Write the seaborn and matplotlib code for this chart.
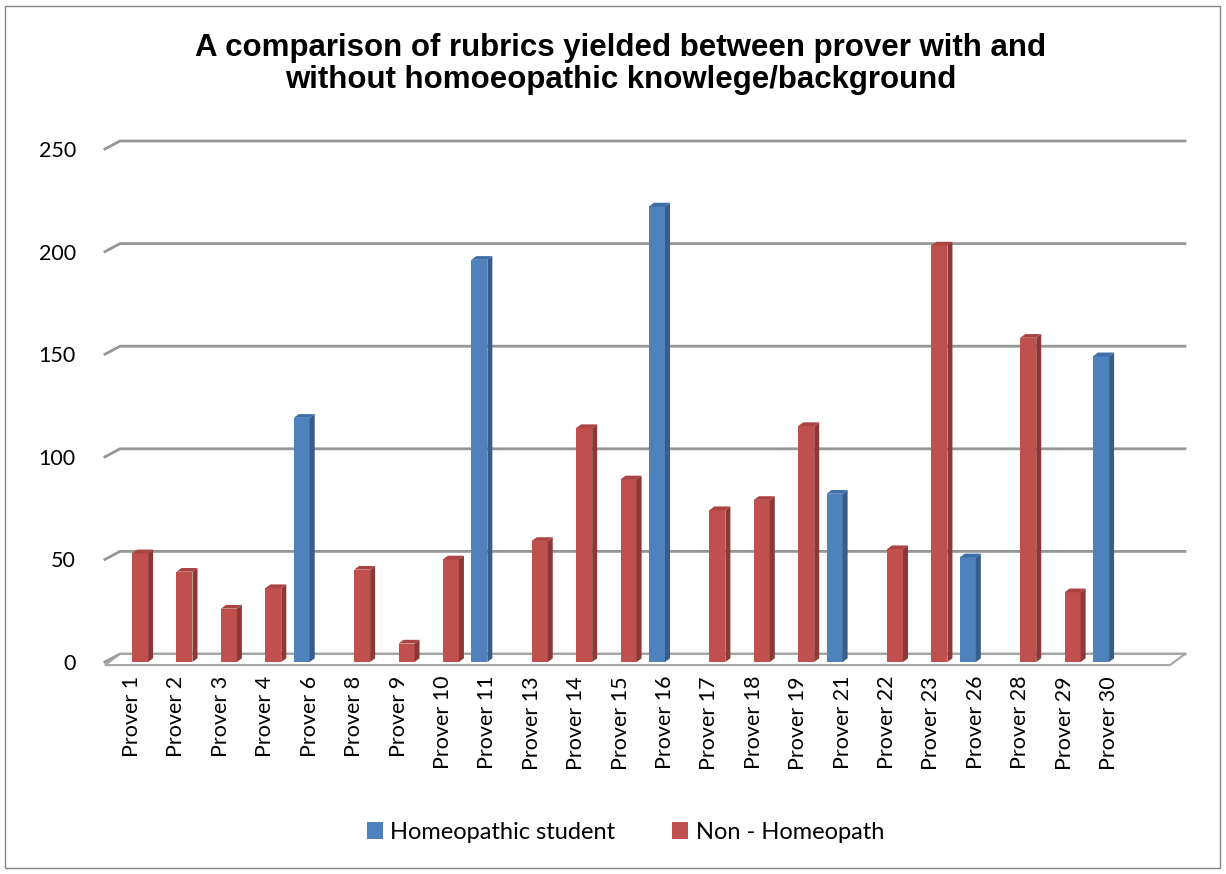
import pandas as pd
import seaborn as sns
import matplotlib.pyplot as plt
from matplotlib.patches import Polygon, Rectangle

# data
provers = ["Prover 1", "Prover 2", "Prover 3", "Prover 4", "Prover 6", "Prover 8",
           "Prover 9", "Prover 10", "Prover 11", "Prover 13", "Prover 14", "Prover 15",
           "Prover 16", "Prover 17", "Prover 18", "Prover 19", "Prover 21", "Prover 22",
           "Prover 23", "Prover 26", "Prover 28", "Prover 29", "Prover 30"]
groups = ["Non - Homeopath", "Non - Homeopath", "Non - Homeopath", "Non - Homeopath",
          "Homeopathic student", "Non - Homeopath", "Non - Homeopath", "Non - Homeopath",
          "Homeopathic student", "Non - Homeopath", "Non - Homeopath", "Non - Homeopath",
          "Homeopathic student", "Non - Homeopath", "Non - Homeopath", "Non - Homeopath",
          "Homeopathic student", "Non - Homeopath", "Non - Homeopath", "Homeopathic student",
          "Non - Homeopath", "Non - Homeopath", "Homeopathic student"]
rubrics = [53, 44, 26, 36, 119, 45, 9, 50, 196, 59, 114, 89, 222, 74, 79, 115, 82, 55,
           203, 51, 158, 34, 149]
hue_order = ["Homeopathic student", "Non - Homeopath"]
yticks = [0, 50, 100, 150, 200, 250]

front = {"Homeopathic student": "#4F81BD", "Non - Homeopath": "#C0504D"}
side = {"Homeopathic student": "#385D8A", "Non - Homeopath": "#8C3836"}
top = {"Homeopathic student": "#3E6DA8", "Non - Homeopath": "#A94442"}

df = pd.DataFrame({"prover": provers, "group": groups, "rubrics": rubrics})

fig = plt.figure(figsize=(12.26, 8.74), dpi=100)
ax = fig.add_axes([105 / 1226, (874 - 662) / 874, 1080 / 1226, 513 / 874])

# outer chart border
fig.patches.append(Rectangle((5 / 1226, 6 / 874), 1215 / 1226, 862 / 874,
                             transform=fig.transFigure, fill=False,
                             edgecolor="#868686", linewidth=1))

sns.barplot(data=df, x="prover", y="rubrics", hue="group", order=provers,
            hue_order=hue_order, palette=front, width=0.72, dodge=True,
            saturation=1, errorbar=None, linewidth=0, ax=ax, zorder=2)

# side faces and caps for the 3d look
dx = 5 / 44.4
dy = 1.8
bars = [p for p in ax.patches if isinstance(p, Rectangle)]
for bar in bars:
    h = bar.get_height()
    if not h or h != h:
        continue
    x0 = bar.get_x()
    x1 = x0 + bar.get_width()
    col = bar.get_facecolor()
    key = "Homeopathic student" if col[2] > col[0] else "Non - Homeopath"
    ax.add_patch(Polygon([(x1, 0), (x1 + dx, dy), (x1 + dx, h + dy), (x1, h)],
                         closed=True, facecolor=side[key], linewidth=0, zorder=2))
    ax.add_patch(Polygon([(x0, h), (x1, h), (x1 + dx, h + dy), (x0 + dx, h + dy)],
                         closed=True, facecolor=top[key], linewidth=0, zorder=2))

# back wall gridlines + floor (fake 3d)
gx = 15 / 1080
gy = 8 / 2.052
ytr = ax.get_yaxis_transform()
for v in yticks:
    ax.plot([0, gx, 1], [v, v + gy, v + gy], transform=ytr, color="#969696",
            linewidth=2, clip_on=False, zorder=0)
ax.add_patch(Polygon([(0, -1.5), (1 - gx, -1.5), (1, gy), (gx, gy)], closed=True,
                     transform=ytr, facecolor="white", edgecolor="#A6A6A6",
                     linewidth=1.5, clip_on=False, zorder=0.5))

ax.set_xlim(-0.61, 23.71)
ax.set_ylim(0, 250)
ax.set_yticks(yticks)
ax.set_xlabel("")
ax.set_ylabel("")
for s in ax.spines.values():
    s.set_visible(False)
ax.tick_params(axis="x", length=0, pad=10, labelrotation=90)
ax.tick_params(axis="y", length=0, pad=21)
for lab in ax.get_xticklabels() + ax.get_yticklabels():
    lab.set_fontfamily("Lato")
    lab.set_fontsize(15.5)

handles, labels = ax.get_legend_handles_labels()
ax.get_legend().remove()
fig.legend(handles, labels, loc="center", bbox_to_anchor=(0.51, 0.048), ncol=2,
           frameon=False, handlelength=0.7, handleheight=0.7, handletextpad=0.3,
           columnspacing=2.4, prop={"family": "Lato", "size": 17})

fig.text(0.506, 0.927,
         "A comparison of rubrics yielded between prover with and\n"
         "without homoeopathic knowlege/background",
         ha="center", va="center", fontsize=22.5, fontweight="bold",
         family="Liberation Sans", linespacing=1.1)

fig.savefig("out.png", dpi=100)
